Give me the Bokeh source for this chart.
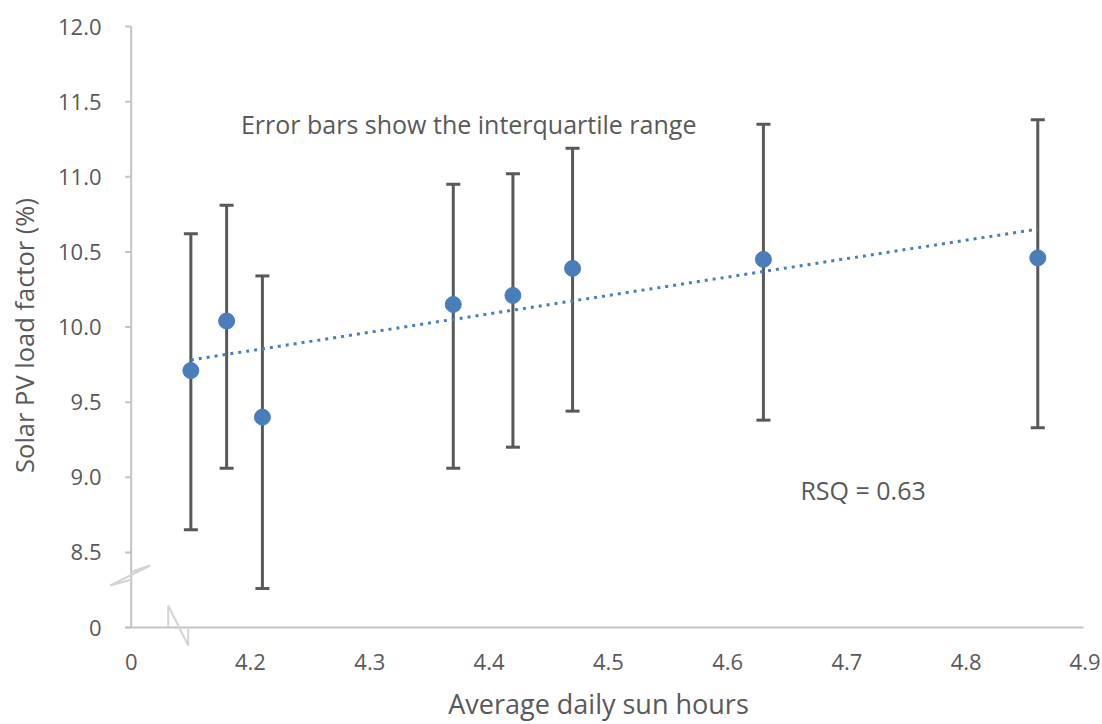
import numpy as np
from bokeh.plotting import figure
from bokeh.models import (ColumnDataSource, Whisker, TeeHead, Range1d, FixedTicker,
                          CustomJSTickFormatter, Label)
from bokeh.embed import file_html
from bokeh.resources import INLINE

# ---- data ----
sun_hours = [4.15, 4.18, 4.21, 4.37, 4.42, 4.47, 4.63, 4.86]
load_factor = [9.71, 10.04, 9.40, 10.15, 10.21, 10.39, 10.45, 10.46]
q1 = [8.65, 9.06, 8.26, 9.06, 9.20, 9.44, 9.38, 9.33]
q3 = [10.62, 10.81, 10.34, 10.95, 11.02, 11.19, 11.35, 11.38]
x_ticks = [4.1, 4.2, 4.3, 4.4, 4.5, 4.6, 4.7, 4.8, 4.9]
y_ticks = [8.0, 8.5, 9.0, 9.5, 10.0, 10.5, 11.0, 11.5, 12.0]
note_text = "Error bars show the interquartile range"
rsq_text = "RSQ = 0.63"

FONT = "Open Sans"
TXT = "#595959"
AX = "#c4c4c4"
BRK = "#d4d4d4"
BLUE = "#4a7ebb"

# ---- layout (pixels) ----
W, H = 1100, 724
FL, FR, FT, FB = 108, 1088, 22, 648        # frame edges
AX_X, AX_Y = 130.7, 627                     # where axis origin (4.1, 8.0) sits
TOP_Y = 26                                  # where 12.0 sits
RIGHT_X = 1085                              # where 4.9 sits
x0, x1 = x_ticks[0], x_ticks[-1]
y0, y1 = y_ticks[0], y_ticks[-1]
XS = (RIGHT_X - AX_X) / (x1 - x0)           # px per x unit
YS = (AX_Y - TOP_Y) / (y1 - y0)             # px per y unit
x_range = Range1d(x0 - (AX_X - FL) / XS, x0 + (FR - AX_X) / XS)
y_range = Range1d(y0 - (FB - AX_Y) / YS, y0 + (AX_Y - FT) / YS)

def px_x(d):
    return d / XS

def px_y(d):
    return d / YS

p = figure(width=W, height=H, x_range=x_range, y_range=y_range,
           output_backend="svg", toolbar_location=None,
           min_border_left=FL, min_border_right=W - FR, min_border_top=FT, min_border_bottom=H - FB)
p.outline_line_color = None
p.xgrid.visible = False
p.ygrid.visible = False

# axes: labels from Bokeh, lines drawn at the true origin
p.xaxis.ticker = FixedTicker(ticks=x_ticks)
p.yaxis.ticker = FixedTicker(ticks=y_ticks)
p.xaxis.formatter = CustomJSTickFormatter(code="return Math.abs(tick-4.1)<1e-9 ? '0' : tick.toFixed(1);")
p.yaxis.formatter = CustomJSTickFormatter(code="return Math.abs(tick-8.0)<1e-9 ? '0' : tick.toFixed(1);")
for ax in (p.xaxis[0], p.yaxis[0]):
    ax.axis_line_color = None
    ax.major_tick_line_color = None
    ax.minor_tick_line_color = None
    ax.major_tick_in = 0
    ax.major_tick_out = 0
    ax.major_label_text_font = FONT
    ax.major_label_text_font_size = "22px"
    ax.major_label_text_color = TXT
    ax.axis_label_text_font = FONT
    ax.axis_label_text_font_style = "normal"
    ax.axis_label_text_color = TXT
p.xaxis.axis_label_text_font_size = "27px"
p.yaxis.axis_label_text_font_size = "25.5px"
p.xaxis.major_label_standoff = 5
p.yaxis.major_label_standoff = 7
p.xaxis.axis_label = "Average daily sun hours"
p.yaxis.axis_label = "Solar PV load factor (%)"
p.xaxis.axis_label_standoff = 12
p.yaxis.axis_label_standoff = 14

# axis lines and y ticks
p.segment(x0=[x0, x0 - px_x(6)], y0=[y0, y0], x1=[x0, x1 - px_x(2)], y1=[y1, y0],
          line_color=AX, line_width=2)
p.segment(x0=[x0 - px_x(6)] * len(y_ticks), y0=y_ticks, x1=[x0] * len(y_ticks), y1=y_ticks,
          line_color=AX, line_width=2)

# axis break marks
p.line(x=[x0 + px_x(1), x0 + px_x(19), x0 - px_x(21), x0 + px_x(1)],
       y=[8.0 + px_y(56), 8.0 + px_y(62), 8.0 + px_y(42), 8.0 + px_y(48)],
       line_color=BRK, line_width=2)
p.line(x=[x0 + px_x(37), x0 + px_x(37), x0 + px_x(57), x0 + px_x(57)],
       y=[y0, y0 + px_y(22), y0 - px_y(18), y0],
       line_color=BRK, line_width=2)

src = ColumnDataSource(dict(x=sun_hours, y=load_factor, lower=q1, upper=q3))
w = Whisker(base="x", upper="upper", lower="lower", source=src, dimension="height",
            line_color=TXT, line_width=3, level="underlay",
            upper_head=TeeHead(size=14, line_color=TXT, line_width=3),
            lower_head=TeeHead(size=14, line_color=TXT, line_width=3))
p.add_layout(w)

# linear trend line from data
fit = np.polyfit(sun_hours, load_factor, 1)
tx = [min(sun_hours), max(sun_hours)]
ty = list(np.polyval(fit, tx))
p.line(tx, ty, line_color=BLUE, line_width=3, line_dash="3 5")

p.scatter("x", "y", source=src, size=16, fill_color=BLUE, line_color=BLUE)

p.add_layout(Label(x=4.192, y=11.354, text=note_text, text_font=FONT, text_font_size="25px",
                   text_color=TXT, text_baseline="middle", text_align="left"))
p.add_layout(Label(x=4.661, y=8.918, text=rsq_text, text_font=FONT, text_font_size="25px",
                   text_color=TXT, text_baseline="middle", text_align="left"))

open("out.html", "w").write(file_html(p, INLINE))
